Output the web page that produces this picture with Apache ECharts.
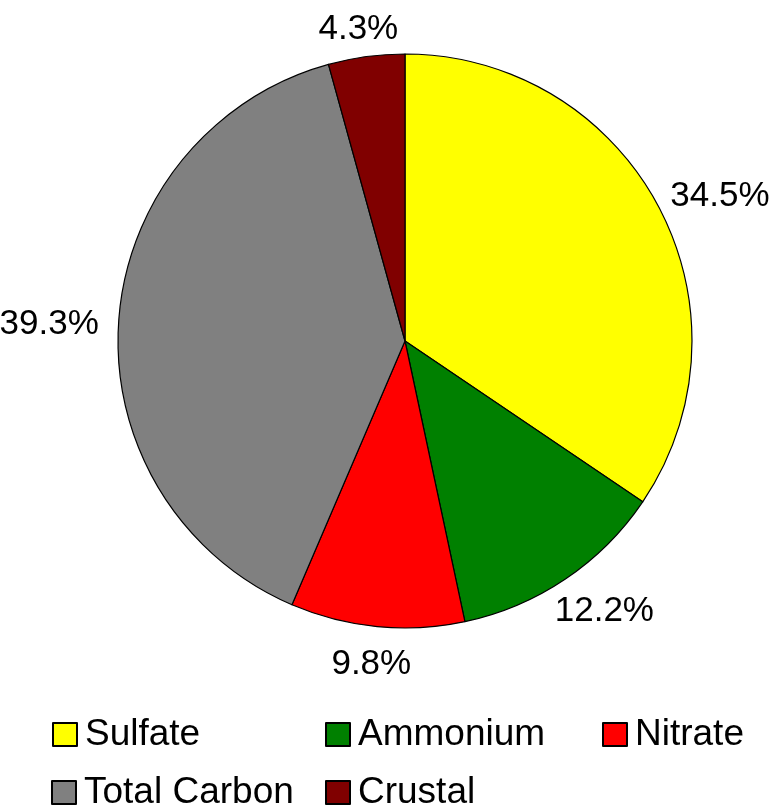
<!DOCTYPE html>
<html>
<head>
<meta charset="utf-8">
<script src="https://cdn.jsdelivr.net/npm/echarts@6/dist/echarts.min.js"></script>
<style>
  html, body { margin: 0; padding: 0; background: #fff; }
  #main { width: 773px; height: 810px; }
</style>
</head>
<body>
<div id="main"></div>
<script>
  // slices, clockwise from 12 o'clock
  const categories = ['Sulfate', 'Ammonium', 'Nitrate', 'Total Carbon', 'Crustal'];
  const shares = [34.5, 12.2, 9.8, 39.3, 4.3];
  const colors = ['#ffff00', '#008000', '#ff0000', '#808080', '#800000'];

  // legend grid: three slots on the first row, two on the second
  const legendLeft = [52, 325, 602, 51, 325];
  const legendTop = [716, 716, 716, 774, 774];

  const cx = 405, cy = 341, radius = 287, labelGap = 20;
  const total = shares.reduce((a, b) => a + b, 0);

  let myChart = echarts.init(document.getElementById('main'));

  // put each label just outside the rim, pushed out along the slice's middle
  function placeLabel(params) {
    let i = params.dataIndex;
    let before = 0;
    for (let k = 0; k < i; k++) before += shares[k];
    let mid = (before + shares[i] / 2) / total * Math.PI * 2;
    let ux = Math.sin(mid), uy = -Math.cos(mid);
    let w = params.labelRect.width, h = 26;
    return {
      x: cx + ux * (radius + labelGap) + ux * w / 2,
      y: cy + uy * (radius + labelGap) + uy * h / 2 + 5,
      align: 'center',
      verticalAlign: 'middle'
    };
  }

  let option = {
    animation: false,
    color: colors,
    legend: categories.map((name, i) => ({
      data: [name],
      left: legendLeft[i],
      top: legendTop[i],
      padding: 0,
      icon: 'rect',
      itemWidth: 24,
      itemHeight: 23,
      selectedMode: false,
      textStyle: {
        fontFamily: 'Liberation Sans, Arial, sans-serif',
        fontSize: 37,
        lineHeight: 37,
        color: '#000',
        padding: [0, 0, 0, 3]
      }
    })),
    series: [{
      type: 'pie',
      center: [cx, cy],
      radius: radius,
      startAngle: 90,
      clockwise: true,
      avoidLabelOverlap: false,
      itemStyle: {
        borderColor: '#000',
        borderWidth: 1.2
      },
      emphasis: { disabled: true },
      label: {
        show: true,
        position: 'outside',
        fontFamily: 'Liberation Sans, Arial, sans-serif',
        fontSize: 35,
        color: '#000',
        formatter: p => p.value.toFixed(1) + '%'
      },
      labelLine: { show: false },
      labelLayout: placeLabel,
      data: categories.map((name, i) => ({ name: name, value: shares[i] }))
    }]
  };

  myChart.setOption(option);
</script>
</body>
</html>
